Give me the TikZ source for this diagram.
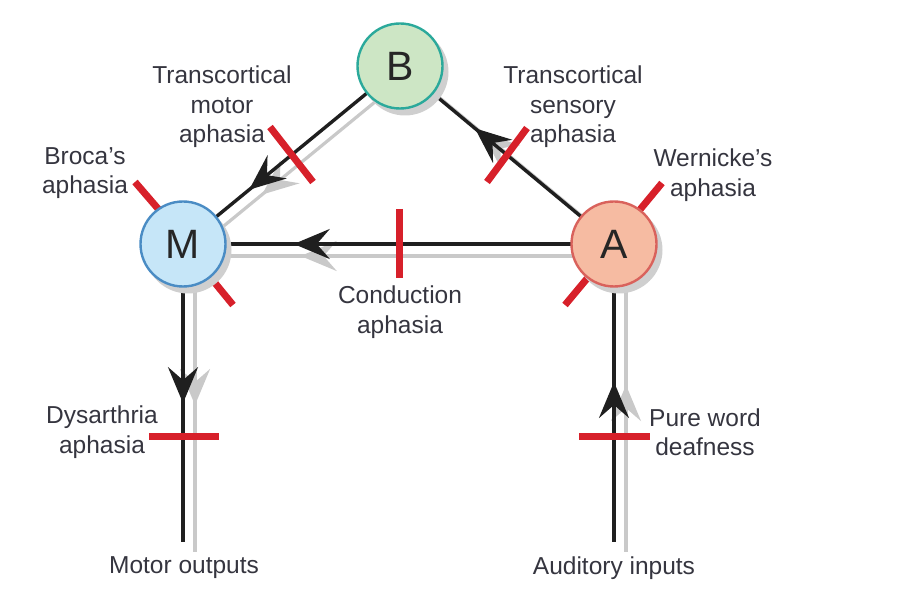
\documentclass[tikz,border=0pt]{standalone}
\usepackage{fontspec}
\setmainfont{Liberation Sans}
\usetikzlibrary{arrows.meta,decorations.markings}
\definecolor{txt}{HTML}{35353F}
\definecolor{redbar}{HTML}{D7202A}
\definecolor{grayln}{HTML}{C9C9C9}
\definecolor{shadowc}{HTML}{CFCFCF}
\definecolor{Bfill}{HTML}{CDE6C5}
\definecolor{Bdraw}{HTML}{2BA99B}
\definecolor{Mfill}{HTML}{C6E6F8}
\definecolor{Mdraw}{HTML}{4A8CC4}
\definecolor{Afill}{HTML}{F6BBA2}
\definecolor{Adraw}{HTML}{D9625C}
\pgfdeclarelayer{bg}
\pgfdeclarelayer{mid}
\pgfsetlayers{bg,mid,main}
\tikzset{
  blackline/.style={draw=black!88, line width=3.4pt},
  grayline/.style={draw=grayln, line width=3.2pt},
  midarrow/.style 2 args={postaction={decorate}, decoration={markings,
     mark=at position #1 with {\arrow{Stealth[length=36pt,width=30pt,inset=13pt,color=#2]}}}},
  lesion/.style={draw=redbar, line width=7pt},
  circ/.style={circle, minimum size=85pt, inner sep=0pt, line width=2.4pt,
     font=\fontsize{41}{41}\selectfont, text=black!85},
  shadow/.style={circle, minimum size=87pt, inner sep=0pt, fill=shadowc},
  lab/.style={align=center, text=txt, font=\fontsize{24.5}{29.5}\selectfont, inner sep=0pt}
}
\begin{document}
\begin{tikzpicture}[x=1pt,y=-1pt]
\useasboundingbox (0,0) rectangle (922,593);
% nodes
\node[circ, fill=Bfill, draw=Bdraw] (B) at (400,66) {B};
\node[circ, fill=Mfill, draw=Mdraw] (M) at (183,244) {M};
\node[circ, fill=Afill, draw=Adraw] (A) at (614,244) {A};
\coordinate (mout) at (183,542);
\coordinate (moutg) at (195,552);
\coordinate (ain) at (614,542);
\coordinate (aing) at (626,552);
% shadows
\begin{pgfonlayer}{mid}
\node[shadow] (Bs) at ([shift={(5,6)}]B.center) {};
\node[shadow] (Ms) at ([shift={(5,6)}]M.center) {};
\node[shadow] (As) at ([shift={(5,6)}]A.center) {};
\end{pgfonlayer}
% lines
\begin{pgfonlayer}{bg}
\draw[grayline, midarrow={0.67}{grayln}] ([shift={(7.5,9.3)}]B.center) -- ([shift={(7.5,9.3)}]M.center);
\draw[grayline, midarrow={0.727}{grayln}] ([shift={(0,12)}]A.center) -- ([shift={(0,12)}]M.center);
\draw[grayline, midarrow={0.523}{grayln}] ([shift={(12,0)}]M.center) -- (moutg);
\draw[grayline, midarrow={0.542}{grayln}] (aing) -- ([shift={(12,0)}]A.center);
\draw[grayline, midarrow={0.62}{grayln}] ([shift={(1.5,0)}]A.center) -- ([shift={(1.5,0)}]B.center);
\draw[blackline, midarrow={0.695}{black!88}] (B.center) -- (M.center);
\draw[blackline, midarrow={0.743}{black!88}] (A.center) -- (M.center);
\draw[blackline, midarrow={0.534}{black!88}] (M.center) -- (mout);
\draw[blackline, midarrow={0.537}{black!88}] (ain) -- (A.center);
\draw[blackline, midarrow={0.65}{black!88}] (A.center) -- (B.center);
% lesions
\draw[lesion] (270,127) -- (313,182);
\draw[lesion] (527,128) -- (487,182);
\draw[lesion] (662,183) -- (638,212);
\draw[lesion] (590,275) -- (565,305);
\draw[lesion] (135,182) -- (160,211);
\draw[lesion] (206,272) -- (233,305);
\draw[lesion] (399,209) -- (399,278);
\draw[lesion] (149,437) -- (219,437);
\draw[lesion] (579,437) -- (650,437);
\end{pgfonlayer}
% labels
\node[lab] (ltm) at (222,107) {Transcortical\\motor\\aphasia};
\node[lab] (lts) at (573,107) {Transcortical\\sensory\\aphasia};
\node[lab] (lbr) at (85,173) {Broca's\\aphasia};
\node[lab] (lwe) at (713,175) {Wernicke's\\aphasia};
\node[lab] (lco) at (400,312) {Conduction\\aphasia};
\node[lab] (ldy) at (102,432) {Dysarthria\\aphasia};
\node[lab] (lpw) at (705,432) {Pure word\\deafness};
\node[lab] (lmo) at (184,568) {Motor outputs};
\node[lab] (lai) at (614,568) {Auditory inputs};
\end{tikzpicture}
\end{document}
